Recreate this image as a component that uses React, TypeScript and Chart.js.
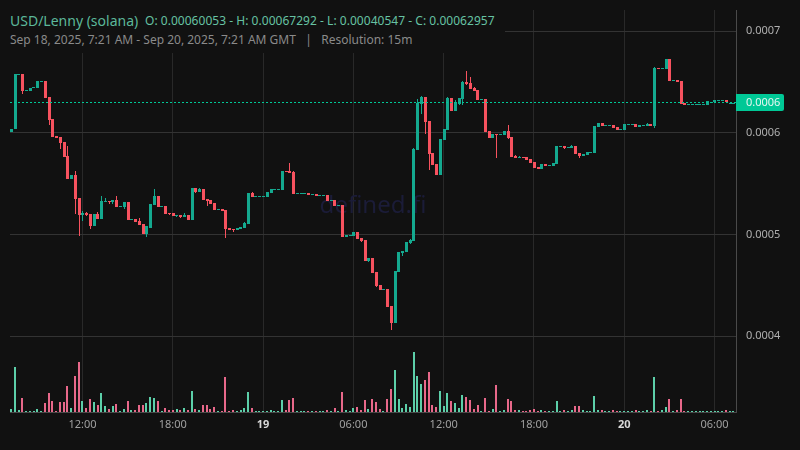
import React, { useEffect, useRef } from "react"
import { Chart, registerables } from "chart.js"

Chart.register(...registerables)

// prices are in units of 0.00001, one entry per 15m candle
const opens = [
  60.05, 60.37, 65.66, 65.76, 64.08, 64.11, 64.38, 64.38, 64.97, 65.07,
  63.47, 61.33, 59.66, 59.53, 59.07, 57.69, 55.43, 55.82, 53.56, 51.88,
  52.11, 51.98, 50.8, 52.05, 51.49, 53.16, 53.26, 53.16, 53.36, 52.67,
  52.67, 53.16, 51.39, 51.49, 51.29, 51.0, 50.01, 50.67, 52.87, 53.75,
  52.67, 52.77, 52.08, 52.08, 51.79, 51.88, 51.69, 51.88, 51.39, 54.54,
  54.15, 54.44, 53.46, 53.36, 53.07, 52.38, 52.47, 52.38, 50.6, 50.51,
  50.41, 50.51, 50.6, 51.0, 54.05, 53.65, 53.65, 53.65, 53.65, 54.05,
  54.34, 54.34, 54.34, 56.21, 56.21, 56.11, 53.95, 53.95, 53.95, 54.05,
  53.85, 53.95, 53.75, 53.75, 53.85, 53.26, 53.36, 52.77, 52.87, 49.72,
  49.82, 49.82, 50.21, 49.62, 49.42, 47.36, 47.65, 46.28, 45.0, 44.5,
  44.6, 42.93, 41.26, 46.28, 48.14, 48.24, 49.13, 49.33, 58.28, 62.81,
  63.49, 61.13, 57.99, 56.9, 55.82, 59.26, 60.25, 63.4, 62.12, 62.81,
  63.3, 64.97, 64.87, 64.38, 64.18, 63.2, 63.3, 60.15, 59.46, 59.85,
  59.76, 59.76, 60.15, 59.56, 57.69, 57.49, 57.59, 57.59, 57.39, 57.1,
  56.61, 56.41, 56.9, 56.7, 56.7, 56.9, 58.57, 58.67, 58.48, 58.48,
  58.67, 57.99, 57.69, 57.79, 57.99, 57.99, 60.54, 60.94, 60.64, 60.64,
  60.74, 60.54, 60.25, 60.25, 60.74, 60.74, 60.84, 60.54, 60.64, 60.64,
  60.84, 60.64, 66.35, 66.25, 66.25, 67.29, 65.07, 65.17, 65.07, 62.9,
  62.71, 62.71, 62.71, 62.71, 62.71, 62.71, 62.9, 63.0, 63.1, 63.1,
  63.2, 62.9, 62.9,
]
const closes = [
  60.41, 65.76, 65.76, 64.11, 64.18, 64.43, 64.48, 65.07, 65.07, 63.43,
  61.23, 59.59, 59.49, 59.0, 57.62, 55.43, 55.82, 53.46, 51.88, 52.11,
  51.88, 50.8, 52.05, 51.49, 53.26, 53.26, 53.16, 53.36, 52.67, 52.77,
  53.16, 51.39, 51.49, 51.2, 50.9, 50.01, 50.8, 52.97, 53.75, 52.67,
  52.77, 51.98, 51.98, 51.79, 51.88, 51.69, 51.88, 51.39, 54.54, 54.15,
  54.44, 53.36, 53.26, 52.97, 52.38, 52.47, 52.28, 50.51, 50.41, 50.41,
  50.6, 50.7, 51.1, 54.05, 53.65, 53.75, 53.75, 53.75, 54.15, 54.44,
  54.44, 54.44, 56.21, 56.11, 56.02, 53.95, 54.05, 54.05, 54.05, 53.85,
  53.95, 53.75, 53.85, 53.85, 53.26, 53.36, 52.77, 52.87, 49.72, 49.92,
  49.92, 50.21, 49.52, 49.33, 47.36, 47.65, 46.18, 44.9, 44.5, 44.6,
  42.83, 41.26, 46.38, 48.24, 48.34, 49.23, 49.42, 58.38, 62.9, 63.49,
  61.04, 57.89, 56.8, 55.82, 59.36, 60.35, 63.4, 62.12, 63.0, 63.4,
  64.97, 64.77, 64.28, 64.08, 63.2, 63.3, 60.05, 59.46, 59.85, 59.76,
  59.85, 60.15, 59.46, 57.59, 57.49, 57.59, 57.49, 57.3, 57.0, 56.51,
  56.41, 56.9, 56.7, 56.8, 57.0, 58.67, 58.67, 58.48, 58.57, 58.67,
  57.89, 57.69, 57.89, 58.08, 58.08, 60.64, 60.94, 60.64, 60.74, 60.74,
  60.44, 60.25, 60.35, 60.84, 60.84, 60.84, 60.54, 60.74, 60.74, 60.84,
  60.64, 66.35, 66.25, 66.35, 67.29, 65.07, 65.17, 64.97, 62.81, 62.71,
  62.81, 62.81, 62.81, 62.81, 62.81, 63.1, 63.0, 63.2, 63.2, 63.2,
  63.0, 62.96, 62.96,
]
// only the candles whose wick sticks out of the body
const wickHighs: Record<number, number> = {
  15: 58.67, 17: 56.21, 19: 52.28, 20: 52.25, 23: 52.18, 24: 53.75, 25: 53.56, 28: 53.75,
  34: 51.59, 38: 54.44, 46: 52.08, 50: 54.54, 62: 51.2, 64: 54.15, 74: 57.0, 75: 56.21,
  106: 49.52, 107: 58.48, 108: 63.3, 109: 63.59, 116: 63.49, 118: 63.2, 120: 65.07, 121: 66.05,
  122: 65.46, 123: 64.48, 132: 60.74, 134: 57.79, 135: 57.69, 149: 58.77, 169: 60.94, 171: 66.45,
}
const wickLows: Record<number, number> = {
  3: 63.79, 10: 60.74, 13: 58.38, 17: 52.05, 18: 49.82, 19: 51.29, 20: 51.79, 21: 50.51,
  26: 52.97, 27: 52.97, 30: 52.47, 36: 49.72, 37: 50.6, 42: 51.88, 44: 51.69, 45: 51.59,
  49: 54.05, 52: 52.77, 57: 49.62, 59: 50.21, 93: 49.23, 95: 47.26, 97: 44.8, 101: 40.55,
  104: 47.85, 106: 49.03, 109: 61.82, 110: 59.86, 111: 56.31, 119: 62.71, 120: 62.71, 121: 64.68,
  129: 57.49, 132: 59.36, 147: 58.38, 151: 57.49, 171: 60.44,
}
const volumes = [
  3.3, 45, 2.3, 14, 1.3, 1.3, 1.3, 3.3, 1.5, 9.3,
  19.3, 11.3, 1.3, 10.3, 10.3, 26.3, 4.3, 36.3, 50.3, 11.3,
  4.3, 13.3, 10.3, 7.3, 19.3, 6.3, 3.3, 6.3, 8.3, 1.3,
  3.3, 11.3, 2.3, 2.3, 7.3, 7.3, 9.3, 15.3, 14.3, 11.3,
  1.3, 4.3, 2.3, 2.3, 3.3, 2.3, 4.3, 2.3, 21.3, 3.3,
  2.3, 7.3, 7.3, 3.3, 5.3, 1.3, 1.3, 35.3, 1.3, 2.3,
  1.3, 2.3, 4.3, 20.3, 4.3, 1.3, 1.3, 1.3, 1.3, 2.3,
  1.3, 1.3, 12.3, 2.3, 12.3, 14.3, 1.3, 1.3, 1.3, 1.3,
  1.3, 1.3, 1.3, 1.3, 2.3, 1.3, 4.3, 1.3, 20.3, 2.3,
  1.3, 4.3, 5.3, 2.3, 12.3, 3.3, 13.3, 10.3, 3.3, 1.3,
  13.3, 23.3, 42.3, 13.3, 4.3, 8.3, 5.3, 60.3, 36.3, 28.3,
  32.3, 40.3, 7.3, 5.3, 21.3, 6.3, 19.3, 11.3, 9.3, 4.3,
  17.3, 15.3, 12.3, 3.3, 7.3, 1.3, 14.3, 1.3, 3.3, 27.3,
  1.3, 2.3, 13.3, 11.3, 2.3, 2.3, 1.3, 1.3, 2.3, 3.3,
  1.3, 2.3, 1.3, 1.3, 1.3, 11.3, 1.3, 2.3, 1.3, 2.3,
  6.3, 6.3, 2.3, 1.3, 1.3, 16.3, 2.3, 2.3, 1.3, 1.3,
  2.3, 1.3, 1.3, 1.3, 1.3, 1.3, 2.3, 1.3, 1.3, 2.3,
  1.3, 35.3, 1.3, 2.3, 5.3, 13.3, 1.3, 2.3, 13.3, 1.3,
  1.3, 1.3, 1.3, 1.3, 1.3, 1.3, 1.3, 1.3, 1.3, 1.3,
  2.3, 1.3, 1.3,
]

const priceTicks = [0.0004, 0.0005, 0.0006, 0.0007]
const timeTicks = [19, 43, 67, 91, 115, 139, 163, 187]
const timeLabels = ["12:00", "18:00", "19", "06:00", "12:00", "18:00", "20", "06:00"]
const dayTicks = [67, 163]
const lastPrice = 0.00062957

const UP = "#14a98f"
const DOWN = "#f7525f"
const VOL_UP = "#5ccfa9"
const VOL_DOWN = "#e8688a"
const FONT = "'Noto Sans', sans-serif"

const isUp = closes.map((c, i) => c >= opens[i])
const candleColors = isUp.map((u) => (u ? UP : DOWN))
const volumeColors = isUp.map((u) => (u ? VOL_UP : VOL_DOWN))
const bodies = opens.map((o, i) => ({ x: i, y: [o / 1e5, closes[i] / 1e5] }))
const wicks = opens.map((o, i) => ({
  x: i,
  y: [
    (wickLows[i] ?? Math.min(o, closes[i])) / 1e5,
    (wickHighs[i] ?? Math.max(o, closes[i])) / 1e5,
  ],
}))
const volumeBars = volumes.map((v, i) => ({ x: i, y: v }))

// grouped: false ignores barThickness, so widths go through maxBarThickness
const barWidth = (width: number) => ({
  grouped: false,
  categoryPercentage: 1,
  barPercentage: 1,
  maxBarThickness: width,
  inflateAmount: 0,
})

// keeps the thin marks crisp: puts each one on whole device pixels
const snapMarks = {
  id: "snapMarks",
  afterDatasetsUpdate(chart: any) {
    chart.data.datasets.forEach((ds: any, d: number) => {
      chart.getDatasetMeta(d).data.forEach((el: any) => {
        if (ds.type === "line") {
          el.y = Math.floor(el.y) + 0.5
          return
        }
        const odd = Math.round(el.width) % 2 === 1
        el.x = odd ? Math.round(el.x - 0.1) + 0.5 : Math.round(el.x)
        const top = Math.round(Math.min(el.y, el.base))
        const bottom = Math.round(Math.max(el.y, el.base))
        el.y = top
        el.base = bottom > top ? bottom : top + 1
      })
    })
  },
}

const watermark = {
  id: "watermark",
  beforeDatasetsDraw(chart: any) {
    const { ctx, chartArea } = chart
    ctx.save()
    ctx.font = `24px ${FONT}`
    ctx.fillStyle = "#1b1c38"
    ctx.textAlign = "center"
    ctx.textBaseline = "middle"
    ctx.fillText("defined.fi", (chartArea.left + chartArea.right) / 2, 206)
    ctx.restore()
  },
}

const priceTag = {
  id: "priceTag",
  afterDraw(chart: any) {
    const { ctx, chartArea, scales } = chart
    const y = Math.floor(scales.y.getPixelForValue(lastPrice))
    ctx.save()
    ctx.fillStyle = "#00c896"
    ctx.beginPath()
    ctx.roundRect(chartArea.right, y - 8, 48, 17, [0, 2, 2, 0])
    ctx.fill()
    ctx.font = `11px ${FONT}`
    ctx.fillStyle = "#e6f7f1"
    ctx.textAlign = "left"
    ctx.textBaseline = "middle"
    ctx.fillText(lastPrice.toFixed(4), chartArea.right + 10, y + 0.5)
    ctx.restore()
  },
}

// the plot has to reach the layout padding exactly, without room for half a label
const noLabelMargins = (axis: any) => {
  axis.paddingTop = 0
  axis.paddingBottom = 0
  axis.paddingLeft = 0
  axis.paddingRight = 0
}

export default function App() {
  const ref = useRef<HTMLCanvasElement>(null)

  useEffect(() => {
    if (!ref.current) return
    const chart = new Chart(ref.current, {
      type: "bar",
      data: {
        datasets: [
          {
            type: "line",
            data: [
              { x: -0.27, y: lastPrice },
              { x: 192.7, y: lastPrice },
            ],
            borderColor: "#00c896",
            borderWidth: 1,
            borderDash: [2, 2],
            pointRadius: 0,
            order: 0,
            yAxisID: "y",
          },
          {
            data: bodies,
            backgroundColor: candleColors,
            ...barWidth(3),
            order: 1,
            yAxisID: "y",
          },
          {
            data: wicks,
            backgroundColor: candleColors,
            ...barWidth(1),
            order: 2,
            yAxisID: "y",
          },
          {
            data: volumeBars,
            backgroundColor: volumeColors,
            ...barWidth(2),
            order: 3,
            yAxisID: "volume",
          },
        ],
      } as any,
      options: {
        animation: false,
        responsive: false,
        layout: { padding: { left: 10, top: 10, right: 0, bottom: 0 } },
        plugins: { legend: { display: false }, tooltip: { enabled: false } },
        scales: {
          x: {
            type: "linear",
            offset: false,
            min: -0.27,
            max: 192.7,
            afterBuildTicks: (axis: any) => {
              axis.ticks = timeTicks.map((value) => ({ value }))
            },
            afterFit: (axis: any) => {
              axis.height = 38
              noLabelMargins(axis)
            },
            grid: { color: "#292929", drawTicks: false, offset: false },
            border: { color: "#4a4a4a" },
            ticks: {
              autoSkip: false,
              maxRotation: 0,
              padding: 6,
              callback: (_v: any, i: number) => timeLabels[i],
              color: (ctx: any) => (dayTicks.includes(ctx.tick?.value) ? "#d8d8d8" : "#a0a0a0"),
              font: (ctx: any) => ({
                family: FONT,
                size: 11,
                weight: dayTicks.includes(ctx.tick?.value) ? "bold" : "normal",
              }),
            },
          },
          y: {
            position: "right",
            min: 0.0003253,
            max: 0.0007207,
            afterBuildTicks: (axis: any) => {
              axis.ticks = priceTicks.map((value) => ({ value }))
            },
            afterFit: (axis: any) => {
              axis.width = 64
              noLabelMargins(axis)
            },
            grid: { color: "#333333", drawTicks: false },
            border: { color: "#4a4a4a" },
            ticks: {
              padding: 10,
              color: "#b0b0b0",
              font: { family: FONT, size: 11 },
              callback: (v: any) => Number(v).toFixed(4),
            },
          },
          // volume only shares the bottom of the pane, it has no axis of its own
          volume: { display: false, position: "right", min: 0, max: 402 },
        },
      } as any,
      plugins: [snapMarks, watermark, priceTag],
    })

    return () => {
      chart.destroy()
    }
  }, [])

  return (
    <div
      style={{
        position: "absolute",
        left: 0,
        top: 0,
        width: 800,
        height: 450,
        background: "#111111",
        overflow: "hidden",
        fontFamily: FONT,
      }}
    >
      <canvas ref={ref} width={800} height={450} style={{ display: "block" }} />
      <div
        style={{
          position: "absolute",
          left: 10,
          top: 10,
          width: 495,
          height: 43,
          background: "#111111",
        }}
      >
        <div style={{ position: "absolute", left: 0, top: 1, whiteSpace: "nowrap", fontSize: 14, lineHeight: "19px", color: "#5cb89a" }}>
          USD/Lenny (solana)
        </div>
        <div style={{ position: "absolute", left: 135, top: 2, whiteSpace: "nowrap", fontSize: 12, lineHeight: "18px", letterSpacing: "0.03px", color: "#66c2a3" }}>
          O: 0.00060053 - H: 0.00067292 - L: 0.00040547 - C: 0.00062957
        </div>
        <div style={{ position: "absolute", left: 0, top: 21, whiteSpace: "pre", fontSize: 12, lineHeight: "18px", color: "#8a8a8a" }}>
          {"Sep 18, 2025, 7:21 AM - Sep 20, 2025, 7:21 AM GMT   |   Resolution: 15m"}
        </div>
      </div>
    </div>
  )
}
